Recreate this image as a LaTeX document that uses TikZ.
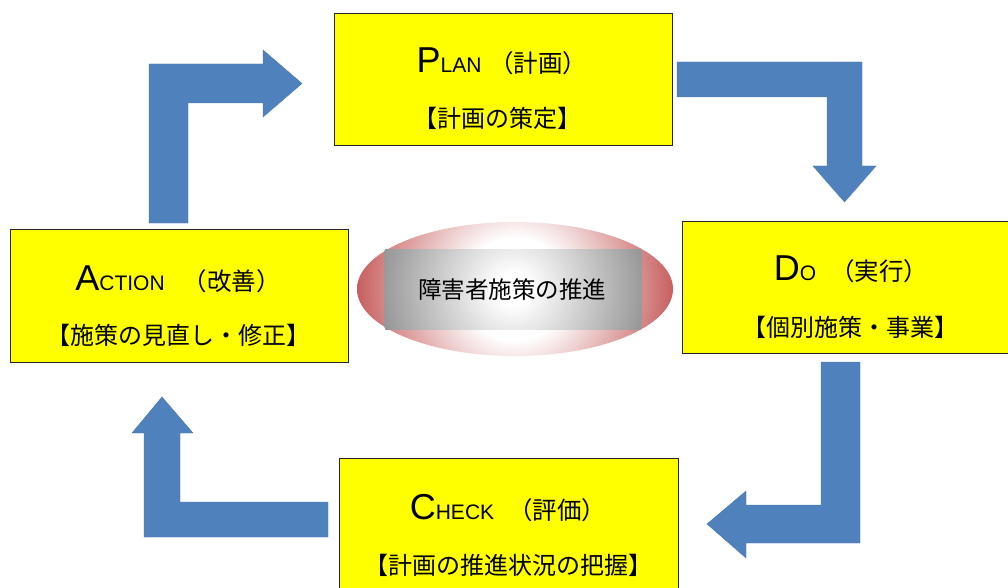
\documentclass[tikz,border=0pt]{standalone}
\usepackage{fontspec}
\setmainfont{Liberation Sans}
\newfontfamily\jp{Noto Sans CJK JP}
\definecolor{arrowblue}{RGB}{79,129,189}
\definecolor{boxyellow}{RGB}{255,255,0}
\definecolor{ellred}{RGB}{198,92,92}
\definecolor{rectgray}{RGB}{150,150,150}
\pgfdeclareradialshading{ellshade}{\pgfpointorigin}{color(0bp)=(white); color(8bp)=(white); color(25bp)=(ellred); color(50bp)=(ellred)}
\pgfdeclareradialshading{rectshade}{\pgfpointorigin}{color(0bp)=(white); color(3bp)=(white); color(25bp)=(rectgray); color(50bp)=(rectgray)}
\newcommand\Bg[1]{{\fontsize{36}{40}\selectfont #1}}
\newcommand\Sm[1]{{\fontsize{21}{25}\selectfont #1}}
\newcommand\Jpl[1]{{\jp\fontsize{24.5}{28}\selectfont #1}}
\begin{document}
\begin{tikzpicture}[x=1pt,y=-1pt,
  box/.style={draw=black!85, line width=0.9pt, fill=boxyellow, anchor=north west, inner sep=0pt},
  blockarrow/.style={fill=arrowblue, draw=arrowblue!92!black, line width=0.4pt},
  titletext/.style={anchor=base, inner sep=0pt},
  subtext/.style={anchor=center, inner sep=0pt, font=\jp\fontsize{24}{28}\selectfont}]
\useasboundingbox (0,0) rectangle (1008,588);
\clip (0,0) rectangle (1008,588);

% boxes
\node[box, minimum width=338pt, minimum height=132pt] (plan) at (334,13) {};
\node[box, minimum width=340pt, minimum height=132pt] (do) at (682,221) {};
\node[box, minimum width=338pt, minimum height=133pt] (action) at (10,229) {};
\node[box, minimum width=339pt, minimum height=140pt] (check) at (339,458) {};

% titles
\node[titletext] (plant) at (502,73) {\Bg{P}\Sm{LAN}\hspace{8pt}\Jpl{（計画）}};
\node[subtext] (plans) at (497,118) {【計画の策定】};
\node[titletext] (dot) at (851,280) {\Bg{D}\Sm{O}\hspace{14pt}\Jpl{（実行）}};
\node[subtext] (dos) at (850,327) {【個別施策・事業】};
\node[titletext] (actiont) at (178,290) {\Bg{A}\Sm{CTION}\hspace{18pt}\Jpl{（改善）}};
\node[subtext] (actions) at (178,335) {【施策の見直し・修正】};
\node[titletext] (checkt) at (508,519) {\Bg{C}\Sm{HECK}\hspace{14pt}\Jpl{（評価）}};
\node[subtext] (checks) at (508,565) {【計画の推進状況の把握】};

% center
\begin{scope}
  \clip (515,289) ellipse [x radius=158pt, y radius=67pt];
  \shade[shading=ellshade] (515,289) circle [radius=160pt];
\end{scope}
\begin{scope}
  \clip (384,249) rectangle (642,329);
  \shade[shading=rectshade] (513,289) circle [radius=134pt];
\end{scope}
\node[inner sep=0pt] (core) at (512,290) {\jp\fontsize{23.5}{28}\selectfont 障害者施策の推進};

% block arrows
\draw[blockarrow] (149,223) -- (149,64) -- (263,64) -- (263,50) -- (302,83.5) -- (263,117) -- (263,103) -- (188,103) -- (188,223) -- cycle;
\draw[blockarrow] (677,62) -- (862,62) -- (862,166) -- (876,166) -- (844.5,202) -- (813,166) -- (827,166) -- (827,97) -- (677,97) -- cycle;
\draw[blockarrow] (821,362) -- (860,362) -- (860,543) -- (746,543) -- (746,558) -- (707,524) -- (746,491) -- (746,505) -- (821,505) -- cycle;
\draw[blockarrow] (328,502) -- (328,537) -- (144,537) -- (144,433) -- (132,433) -- (162,397) -- (193,433) -- (180,433) -- (180,502) -- cycle;
\end{tikzpicture}
\end{document}
